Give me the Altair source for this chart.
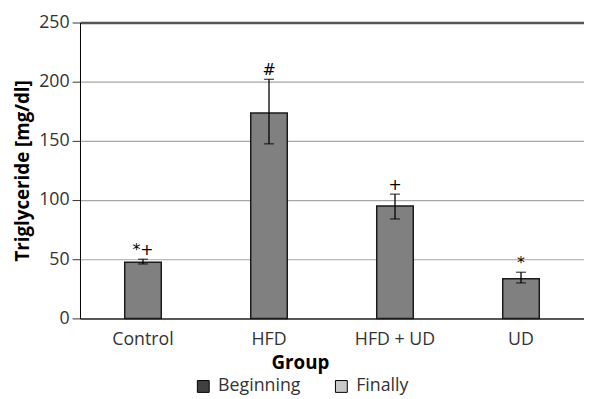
import altair as alt
import pandas as pd

groups = ["Control", "HFD", "HFD + UD", "UD"]
means = [47.5, 173.5, 95, 33.5]
err_lo = [46, 147.5, 84, 30]
err_hi = [50, 202, 105, 39]
marks = ["*+", "#", "+", "*"]
series = ["Beginning", "Finally"]
series_colors = ["#404040", "#c8c8c8"]

df = pd.DataFrame({"group": groups, "mean": means, "lo": err_lo, "hi": err_hi, "mark": marks})
leg = pd.DataFrame({"series": series})

FONT = "Open Sans"

x = alt.X("group:N", sort=groups, title="Group",
          scale=alt.Scale(paddingInner=0.71, paddingOuter=0.355),
          axis=alt.Axis(labelAngle=0, ticks=False, labelFont=FONT, labelFontSize=18,
                        labelColor="#333", labelPadding=12, domainColor="#333", domainWidth=1.5,
                        titleFont=FONT, titleFontSize=19, titleFontWeight="bold", titleColor="#000",
                        titleX=223, titleY=36, titleBaseline="top", titleAlign="center"))
y = alt.Y("mean:Q", title="Triglyceride [mg/dl]",
          scale=alt.Scale(domain=[0, 250], nice=False),
          axis=alt.Axis(values=[0, 50, 100, 150, 200, 250], labelFont=FONT, labelFontSize=18,
                        labelColor="#333", labelPadding=3, tickSize=8, tickColor="#333",
                        domainColor="#000", grid=True,
                        gridColor=alt.condition("datum.value == 250", alt.value("#555"), alt.value("#a6a6a6")),
                        gridWidth=alt.condition("datum.value == 250", alt.value(2.5), alt.value(1.2)),
                        titleFont=FONT, titleFontSize=19, titleFontWeight="bold", titleColor="#000",
                        titlePadding=6))

base = alt.Chart(df)
bars = base.mark_bar(fill="#808080", stroke="#1a1a1a", strokeWidth=1.5).encode(x=x, y=y)
rule = base.mark_rule(color="#000", strokeWidth=1.3).encode(x=alt.X("group:N", sort=groups), y="lo:Q", y2="hi:Q")
cap_lo = base.mark_tick(color="#000", thickness=1.3, size=10, orient="horizontal").encode(
    x=alt.X("group:N", sort=groups), y="lo:Q")
cap_hi = base.mark_tick(color="#000", thickness=1.3, size=10, orient="horizontal").encode(
    x=alt.X("group:N", sort=groups), y="hi:Q")
txt = base.mark_text(font="DejaVu Sans", fontSize=16, color="#000", baseline="alphabetic", dy=-4).encode(
    x=alt.X("group:N", sort=groups), y="hi:Q", text="mark:N")

legend_layer = alt.Chart(leg).mark_square(opacity=0).encode(
    color=alt.Color("series:N", sort=series,
                    scale=alt.Scale(domain=series, range=series_colors),
                    legend=alt.Legend(title=None, orient="none", legendX=116, legendY=360,
                                      direction="horizontal", symbolType="square", symbolSize=144,
                                      symbolStrokeColor="#000", symbolStrokeWidth=1, symbolOpacity=1,
                                      labelFont=FONT, labelFontSize=18, labelColor="#333",
                                      labelOffset=6, columnPadding=32, padding=0)))

chart = alt.layer(bars, rule, cap_lo, cap_hi, txt, legend_layer).properties(
    width=511, height=300,
    autosize=alt.AutoSizeParams(type="none"),
    padding={"left": 73, "top": 12, "right": 0, "bottom": 79},
).configure_view(stroke=None).configure(background="#ffffff")

chart.save("out.html", embed_options={"renderer": "svg", "actions": False})
